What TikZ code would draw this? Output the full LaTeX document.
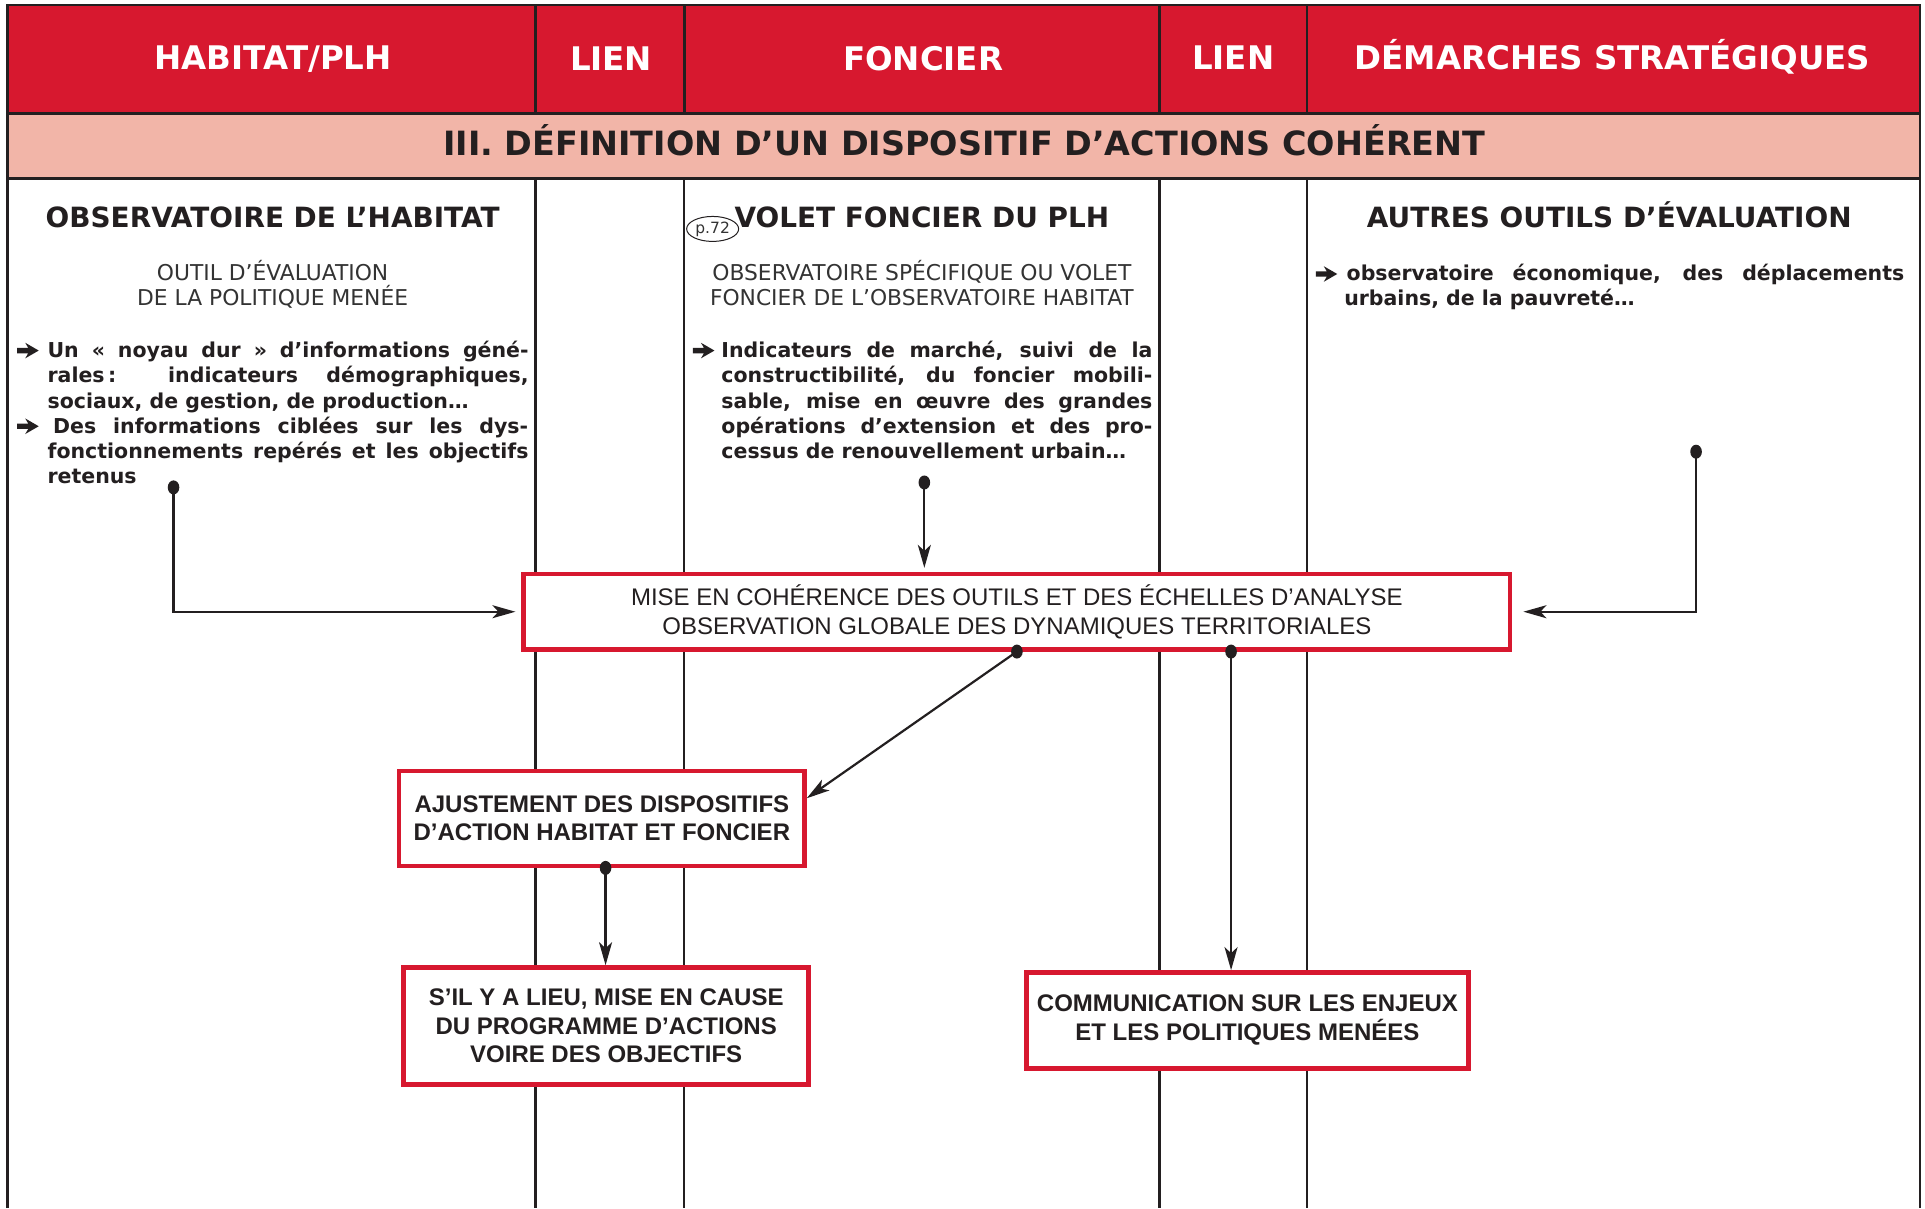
\documentclass[tikz,border=0pt]{standalone}
\usepackage{fontspec}
\setmainfont{DejaVu Sans}
\newfontfamily\arialf{Liberation Sans}
\usetikzlibrary{arrows.meta,calc,shapes.geometric}
\definecolor{hred}{HTML}{D7182F}
\definecolor{hpink}{HTML}{F2B5A8}
\definecolor{ink}{HTML}{231F20}
\definecolor{subgray}{HTML}{333333}
\newcommand{\jl}[2]{\makebox[#1][s]{#2}}
\begin{document}
\begin{tikzpicture}[x=1.2308pt,y=-1.2308pt,
  hdr/.style={text=white,font=\fontsize{32.5}{38}\selectfont\bfseries,anchor=base,inner sep=0},
  band/.style={text=ink,font=\fontsize{33.4}{38}\selectfont\bfseries,anchor=base,inner sep=0},
  colh/.style={text=ink,font=\fontsize{27.9}{32}\selectfont\bfseries,anchor=base,inner sep=0},
  subt/.style={text=subgray,font=\fontsize{21.8}{26}\selectfont,anchor=base,inner sep=0},
  bodyt/.style={text=ink,font=\fontsize{20.5}{25}\selectfont\bfseries,anchor=base west,inner sep=0},
  barr/.pic={\fill[ink] (0pt,4.3pt) -- (11pt,4.3pt) -- (8pt,-0.8pt) -- (21.5pt,7pt) -- (8pt,14.8pt) -- (11pt,9.7pt) -- (0pt,9.7pt) -- cycle;},
  box/.style={draw=hred,line width=4.4pt,fill=white,align=center,inner sep=0,text=ink},
  boxreg/.style={box,font=\arialf\fontsize{24}{28.3}\selectfont},
  boxbold/.style={box,font=\arialf\bfseries\fontsize{24}{28.8}\selectfont},
  frameline/.style={draw=ink,line width=2.6pt},
  colline/.style={draw=ink,line width=2.2pt},
  conn/.style={draw=ink,line width=2.2pt,-{Stealth[length=23pt,width=13pt,inset=6pt]}},
  dotf/.style={fill=ink}
]
\useasboundingbox (0,0) rectangle (1564,981.5);
\fill[white] (0,0) rectangle (1564,981.5);
% bands
\fill[hred] (6,4) rectangle (1560,92);
\fill[hpink] (6,92) rectangle (1560,145);
% column lines
\foreach \cx in {435,556,942,1062}{
  \draw[frameline] (\cx,4) -- (\cx,92);
  \draw[colline] (\cx,145) -- (\cx,981.5);
}
\draw[frameline] (6,92) -- (1560,92);
\draw[frameline] (6,145) -- (1560,145);
\draw[frameline] (6,981.5) -- (6,4) -- (1560,4) -- (1560,981.5);

% header texts
\node[hdr] (h1) at (222,56.5) {HABITAT/PLH};
\node[hdr] (h2) at (496.5,57) {LIEN};
\node[hdr] (h3) at (750,57) {FONCIER};
\node[hdr] (h4) at (1002,56.5) {LIEN};
\node[hdr] (h5) at (1310,56.5) {DÉMARCHES STRATÉGIQUES};
\node[band] (t0) at (783.5,126) {III. DÉFINITION D’UN DISPOSITIF D’ACTIONS COHÉRENT};

% column headings
\node[colh] (c1) at (221.5,184.5) {OBSERVATOIRE DE L’HABITAT};
\node[colh] (c2) at (749,184.5) {VOLET FONCIER DU PLH};
\node[colh] (c3) at (1307.5,184.5) {AUTRES OUTILS D’ÉVALUATION};
\node[draw=ink,line width=1pt,ellipse,minimum width=52pt,minimum height=25pt,inner sep=0,text=subgray,font=\fontsize{15.5}{15}\selectfont] (p72) at (579,186) {p.72};

% subtitles
\node[subt] (s1a) at (221.5,227.5) {OUTIL D’ÉVALUATION};
\node[subt] (s1b) at (221.5,248.6) {DE LA POLITIQUE MENÉE};
\node[subt] (s2a) at (749,227.5) {OBSERVATOIRE SPÉCIFIQUE OU VOLET};
\node[subt] (s2b) at (749,248.6) {FONCIER DE L’OBSERVATOIRE HABITAT};

% left column bullets
\pic at (14,290.5) {barr};
\node[bodyt] (l1) at (38.5,290.5) {\jl{481pt}{Un « noyau dur » d’informations géné-}};
\node[bodyt] (l2) at (38.5,311) {\jl{481pt}{rales\,: indicateurs démographiques,}};
\node[bodyt] (l3) at (38.5,331.5) {sociaux, de gestion, de production…};
\pic at (14,352) {barr};
\node[bodyt] (l4) at (43,352) {\jl{475pt}{Des informations ciblées sur les dys-}};
\node[bodyt] (l5) at (38.5,372.5) {\jl{481pt}{fonctionnements repérés et les objectifs}};
\node[bodyt] (l6) at (38.5,393) {retenus};

% middle column bullets
\pic at (563,290.5) {barr};
\node[bodyt] (m1) at (586,290.5) {\jl{431pt}{Indicateurs de marché, suivi de la}};
\node[bodyt] (m2) at (586,311) {\jl{431pt}{constructibilité, du foncier mobili-}};
\node[bodyt] (m3) at (586,331.5) {\jl{431pt}{sable, mise en œuvre des grandes}};
\node[bodyt] (m4) at (586,352) {\jl{431pt}{opérations d’extension et des pro-}};
\node[bodyt] (m5) at (586,372.5) {cessus de renouvellement urbain…};

% right column bullet
\pic at (1069,228.3) {barr};
\node[bodyt] (r1) at (1094,228.3) {\jl{557.6pt}{observatoire économique, des déplacements}};
\node[bodyt] (r2) at (1092,248.6) {urbains, de la pauvreté…};

% boxes
\node[boxreg,minimum width=986.6pt,minimum height=75.3pt] (box1) at (826.2,497)
  {MISE EN COHÉRENCE DES OUTILS ET DES ÉCHELLES D’ANALYSE\\OBSERVATION GLOBALE DES DYNAMIQUES TERRITORIALES};
\node[boxbold,minimum width=405.4pt,minimum height=94.9pt] (box2) at (489,664.8)
  {AJUSTEMENT DES DISPOSITIFS\\D’ACTION HABITAT ET FONCIER};
\node[boxbold,minimum width=405pt,minimum height=117pt] (box3) at (492.5,833.5)
  {S’IL Y A LIEU, MISE EN CAUSE\\DU PROGRAMME D’ACTIONS\\VOIRE DES OBJECTIFS};
\node[boxbold,minimum width=441.9pt,minimum height=96pt] (box4) at (1013.5,829)
  {COMMUNICATION SUR LES ENJEUX\\ET LES POLITIQUES MENÉES};

% connectors
\coordinate (sa) at (141,396);
\coordinate (sb) at (751,392);
\coordinate (sc) at (1378,367);
\coordinate (de) at (1000.2,0);
\coordinate (df) at (492,0);
\draw[conn,shorten >=6pt] (sa) |- (box1.west);
\draw[conn,shorten >=4pt] (sb) -- (box1.north -| sb);
\draw[conn,shorten >=11pt] (sc) |- (box1.east);
\draw[conn] (box1.south) -- ([yshift=20pt]box2.east);
\draw[conn] (box1.south -| de) -- (box4.north -| de);
\draw[conn] (box2.south -| df) -- (box3.north -| df);

% dots
\fill[dotf] (sa) ellipse[x radius=5.8pt,y radius=7pt];
\fill[dotf] (sb) ellipse[x radius=5.8pt,y radius=7pt];
\fill[dotf] (sc) ellipse[x radius=5.8pt,y radius=7pt];
\fill[dotf] (box1.south) ellipse[x radius=5.8pt,y radius=7pt];
\fill[dotf] (box1.south -| de) ellipse[x radius=5.8pt,y radius=7pt];
\fill[dotf] (box2.south -| df) ellipse[x radius=5.8pt,y radius=7pt];
\end{tikzpicture}
\end{document}
